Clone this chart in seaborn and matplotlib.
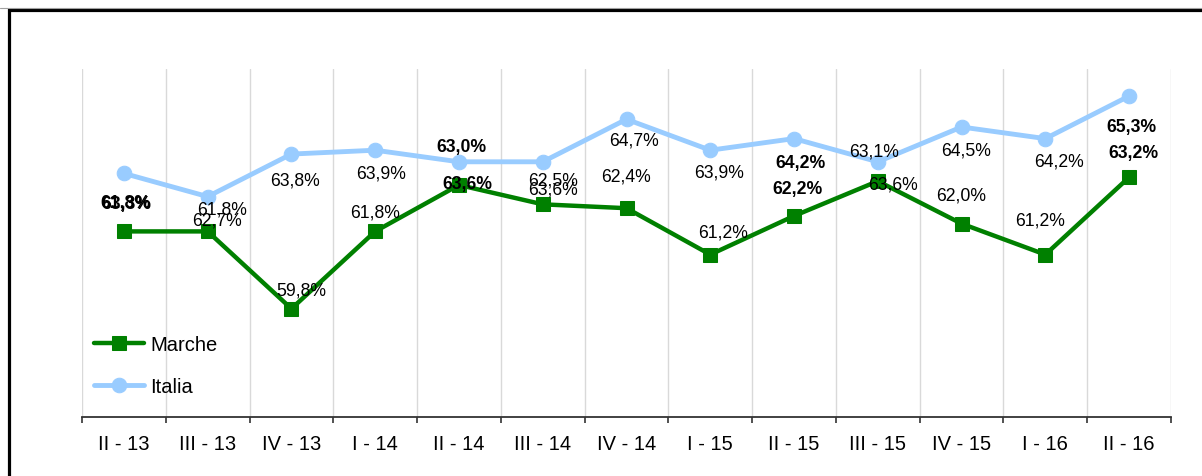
import numpy as np
import pandas as pd
import seaborn as sns
import matplotlib.pyplot as plt
from matplotlib.patches import Rectangle
from matplotlib.lines import Line2D

# Dati
trimestri = ["II - 13", "III - 13", "IV - 13", "I - 14", "II - 14", "III - 14", "IV - 14",
             "I - 15", "II - 15", "III - 15", "IV - 15", "I - 16", "II - 16"]
marche = [61.8, 61.8, 59.8, 61.8, 63.0, 62.5, 62.4, 61.2, 62.2, 63.1, 62.0, 61.2, 63.2]
italia = [63.3, 62.7, 63.8, 63.9, 63.6, 63.6, 64.7, 63.9, 64.2, 63.6, 64.5, 64.2, 65.3]

# spostamento delle etichette (pixel) rispetto al punto
marche_dx = [2, 14, 10, 0, 2, 10, 0, 13, 3, -4, 0, -5, 4]
marche_dy = [-29, -22, -19, -19, -38, -24, -32, -23, -27, -30, -29, -35, -25]
italia_dx = [2, 9, 4, 6, 8, 10, 8, 9, 6, 15, 4, 14, 2]
italia_dy = [30, 23, 26, 23, 22, 27, 21, 22, 24, 22, 23, 22, 30]

df = pd.DataFrame({"pos": np.arange(len(trimestri)), "Marche": marche, "Italia": italia})

sns.set_theme(style="white")
plt.rcParams["font.family"] = ["Liberation Sans", "DejaVu Sans"]

W, H = 1202, 477
fig = plt.figure(figsize=(W / 100, H / 100), dpi=100)
ax = fig.add_axes([82 / W, 1 - 418 / H, (1171 - 82) / W, (418 - 70) / H])

sns.lineplot(data=df, x="pos", y="Marche", ax=ax, color="#008000", marker="s",
             markersize=10.5, markeredgecolor="#008000", linewidth=3.2, label="Marche")
sns.lineplot(data=df, x="pos", y="Italia", ax=ax, color="#99CCFF", marker="o",
             markersize=10.5, markeredgecolor="#99CCFF", linewidth=3.5, label="Italia")

# etichette dei valori
for serie, dxs, dys in [(marche, marche_dx, marche_dy), (italia, italia_dx, italia_dy)]:
    for i, v in enumerate(serie):
        peso = "bold" if trimestri[i].startswith("II ") else "normal"
        ax.annotate(f"{v:.1f}%".replace(".", ","), (i, v),
                    xytext=(dxs[i] * 0.72, -dys[i] * 0.72), textcoords="offset points",
                    ha="center", va="center", fontsize=12.7, fontweight=peso, color="black")

ax.set_xlim(-0.5, len(trimestri) - 0.5)
ax.set_ylim(57, 66)
ax.set_xticks(range(len(trimestri)))
ax.set_xticklabels(trimestri, fontsize=14.5)
ax.set_xticks(np.arange(-0.5, len(trimestri), 1), minor=True)
ax.set_yticks([])
ax.set_xlabel("")
ax.set_ylabel("")
ax.grid(which="minor", axis="x", color="#d9d9d9", linewidth=1)
ax.tick_params(axis="x", which="major", length=0, pad=12.5, colors="black")
ax.tick_params(axis="x", which="minor", length=4.5, width=1.2, color="#333333", bottom=True)
for s in ["left", "right", "top"]:
    ax.spines[s].set_visible(False)
ax.spines["bottom"].set_color("#333333")
ax.spines["bottom"].set_linewidth(1.3)

leg = ax.legend(loc="center left", bbox_to_anchor=(0.011, 0.148), frameon=False,
                fontsize=14.5, handlelength=2.5, handletextpad=0.3, labelspacing=1.1,
                borderpad=0, borderaxespad=0)
for t in leg.get_texts():
    t.set_color("black")

# cornice esterna
fig.add_artist(Line2D([0, 1], [1 - 8.5 / H] * 2, color="#a0a0a0", linewidth=0.8,
                      transform=fig.transFigure))
fig.add_artist(Rectangle((8.5 / W, -0.1), 1.2, 1 - 11 / H + 0.1, transform=fig.transFigure,
                         fill=False, edgecolor="black", linewidth=2.3))

fig.savefig("out.png", dpi=100)
